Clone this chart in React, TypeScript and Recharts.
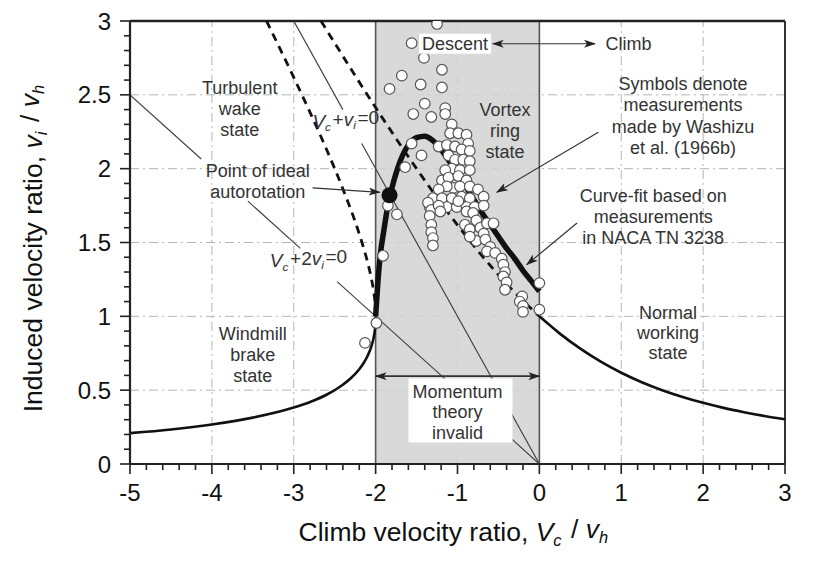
import {
  ComposedChart,
  Label,
  Line,
  ReferenceArea,
  ReferenceDot,
  ReferenceLine,
  Scatter,
  XAxis,
  YAxis,
} from "recharts";

const FONT = '"Liberation Sans", Arial, sans-serif';

// axis ticks
const xMajorTicks = [-5, -4, -3, -2, -1, 0, 1, 2, 3];
const xAllTicks = [
  -5, -4.8, -4.6, -4.4, -4.2, -4, -3.8, -3.6, -3.4, -3.2, -3, -2.8, -2.6, -2.4, -2.2, -2,
  -1.8, -1.6, -1.4, -1.2, -1, -0.8, -0.6, -0.4, -0.2, 0, 0.2, 0.4, 0.6, 0.8, 1, 1.2, 1.4,
  1.6, 1.8, 2, 2.2, 2.4, 2.6, 2.8, 3,
];
const yMajorTicks = [0, 0.5, 1, 1.5, 2, 2.5, 3];
const yAllTicks = [
  0, 0.1, 0.2, 0.3, 0.4, 0.5, 0.6, 0.7, 0.8, 0.9, 1, 1.1, 1.2, 1.3, 1.4, 1.5, 1.6, 1.7, 1.8,
  1.9, 2, 2.1, 2.2, 2.3, 2.4, 2.5, 2.6, 2.7, 2.8, 2.9, 3,
];

// momentum theory, normal working state (climb)
const climbBranch = [
  { vc: 0, vi: 1 }, { vc: 0.25, vi: 0.883 }, { vc: 0.5, vi: 0.781 }, { vc: 0.75, vi: 0.693 },
  { vc: 1, vi: 0.618 }, { vc: 1.25, vi: 0.554 }, { vc: 1.5, vi: 0.5 }, { vc: 1.75, vi: 0.454 },
  { vc: 2, vi: 0.414 }, { vc: 2.25, vi: 0.38 }, { vc: 2.5, vi: 0.351 }, { vc: 2.75, vi: 0.325 },
  { vc: 3, vi: 0.303 },
];

// momentum theory, windmill brake state
const windmillBranch = [
  { vc: -5, vi: 0.209 }, { vc: -4.5, vi: 0.234 }, { vc: -4, vi: 0.268 }, { vc: -3.5, vi: 0.314 },
  { vc: -3, vi: 0.382 }, { vc: -2.8, vi: 0.42 }, { vc: -2.6, vi: 0.469 }, { vc: -2.4, vi: 0.537 },
  { vc: -2.3, vi: 0.582 }, { vc: -2.2, vi: 0.642 }, { vc: -2.15, vi: 0.681 }, { vc: -2.1, vi: 0.73 },
  { vc: -2.05, vi: 0.8 }, { vc: -2.02, vi: 0.868 }, { vc: -2.005, vi: 0.932 }, { vc: -2, vi: 1 },
];

// invalid roots, dashed
const wakeDashed = [
  { vc: -3.333, vi: 3 }, { vc: -3.2, vi: 2.849 }, { vc: -3, vi: 2.618 }, { vc: -2.8, vi: 2.38 },
  { vc: -2.6, vi: 2.131 }, { vc: -2.4, vi: 1.863 }, { vc: -2.2, vi: 1.558 }, { vc: -2.1, vi: 1.37 },
  { vc: -2.05, vi: 1.25 }, { vc: -2.02, vi: 1.152 }, { vc: -2.005, vi: 1.071 }, { vc: -2, vi: 1 },
];
const ringDashed = [
  { vc: -2.667, vi: 3 }, { vc: -2.5, vi: 2.851 }, { vc: -2.25, vi: 2.63 }, { vc: -2, vi: 2.414 },
  { vc: -1.75, vi: 2.204 }, { vc: -1.5, vi: 2 }, { vc: -1.25, vi: 1.804 }, { vc: -1, vi: 1.618 },
  { vc: -0.75, vi: 1.443 }, { vc: -0.5, vi: 1.281 }, { vc: -0.25, vi: 1.133 }, { vc: 0, vi: 1 },
];

// Vc + vi = 0 and Vc + 2vi = 0 (broken where labels sit)
const vcPlusVi = [
  { vc: -3, vi: 3 }, { vc: -2.4, vi: 2.4 }, { vc: -2.3, vi: null }, { vc: -2.17, vi: 2.17 },
  { vc: -0.57, vi: 0.57 }, { vc: -0.45, vi: null }, { vc: -0.34, vi: 0.34 }, { vc: 0, vi: 0 },
];
const vcPlus2Vi = [
  { vc: -5, vi: 2.5 }, { vc: -4.13, vi: 2.065 }, { vc: -4, vi: null }, { vc: -3.56, vi: 1.78 },
  { vc: -2.92, vi: 1.46 }, { vc: -2.7, vi: null }, { vc: -2.47, vi: 1.235 }, { vc: -1.14, vi: 0.57 },
  { vc: -0.8, vi: null }, { vc: -0.34, vi: 0.17 }, { vc: 0, vi: 0 },
];

// curve-fit, NACA TN 3238
const curveFit = [
  { vc: -2, vi: 1 }, { vc: -1.97, vi: 1.25 }, { vc: -1.94, vi: 1.43 }, { vc: -1.9, vi: 1.58 },
  { vc: -1.85, vi: 1.75 }, { vc: -1.8, vi: 1.87 }, { vc: -1.7, vi: 2.05 }, { vc: -1.6, vi: 2.16 },
  { vc: -1.5, vi: 2.21 }, { vc: -1.4, vi: 2.22 }, { vc: -1.3, vi: 2.19 }, { vc: -1.2, vi: 2.13 },
  { vc: -1.1, vi: 2.05 }, { vc: -1, vi: 1.97 }, { vc: -0.9, vi: 1.88 }, { vc: -0.8, vi: 1.79 },
  { vc: -0.7, vi: 1.7 }, { vc: -0.6, vi: 1.62 }, { vc: -0.5, vi: 1.54 }, { vc: -0.4, vi: 1.46 },
  { vc: -0.3, vi: 1.39 }, { vc: -0.2, vi: 1.31 }, { vc: -0.1, vi: 1.24 }, { vc: 0, vi: 1.17 },
];

const idealAutorotation = [{ vc: -1.83, vi: 1.82 }];

// Washizu et al. (1966b) measurements
const washizu = [
  { vc: -1.25, vi: 2.98 }, { vc: -1.56, vi: 2.85 }, { vc: -1.41, vi: 2.75 }, { vc: -1.68, vi: 2.63 },
  { vc: -1.19, vi: 2.67 }, { vc: -1.45, vi: 2.57 }, { vc: -1.19, vi: 2.55 }, { vc: -1.83, vi: 2.54 },
  { vc: -1.4, vi: 2.44 }, { vc: -1.15, vi: 2.41 }, { vc: -1.54, vi: 2.37 }, { vc: -1.32, vi: 2.35 },
  { vc: -1.15, vi: 2.37 }, { vc: -1.07, vi: 2.3 }, { vc: -1.09, vi: 2.24 }, { vc: -0.99, vi: 2.24 },
  { vc: -0.89, vi: 2.23 }, { vc: -0.87, vi: 2.17 }, { vc: -1.23, vi: 2.15 }, { vc: -1.13, vi: 2.16 },
  { vc: -1.03, vi: 2.15 }, { vc: -0.95, vi: 2.13 }, { vc: -0.85, vi: 2.12 }, { vc: -1.44, vi: 2.09 },
  { vc: -1.11, vi: 2.09 }, { vc: -1.03, vi: 2.06 }, { vc: -0.93, vi: 2.06 }, { vc: -0.85, vi: 2.05 },
  { vc: -1.07, vi: 2.0 }, { vc: -0.97, vi: 1.99 }, { vc: -0.85, vi: 1.99 }, { vc: -1.15, vi: 1.99 },
  { vc: -1.19, vi: 1.92 }, { vc: -1.11, vi: 1.94 }, { vc: -0.99, vi: 1.95 }, { vc: -0.89, vi: 1.92 },
  { vc: -1.05, vi: 1.87 }, { vc: -1.13, vi: 1.88 }, { vc: -1.23, vi: 1.86 }, { vc: -0.97, vi: 1.88 },
  { vc: -0.85, vi: 1.88 }, { vc: -0.75, vi: 1.86 }, { vc: -1.3, vi: 1.8 }, { vc: -1.19, vi: 1.8 },
  { vc: -1.07, vi: 1.8 }, { vc: -0.95, vi: 1.81 }, { vc: -0.85, vi: 1.8 }, { vc: -0.68, vi: 1.81 },
  { vc: -1.34, vi: 1.74 }, { vc: -1.23, vi: 1.74 }, { vc: -1.13, vi: 1.74 }, { vc: -1.01, vi: 1.74 },
  { vc: -0.89, vi: 1.74 }, { vc: -0.79, vi: 1.74 }, { vc: -0.68, vi: 1.75 }, { vc: -1.56, vi: 2.17 },
  { vc: -1.64, vi: 2.01 }, { vc: -1.85, vi: 1.75 }, { vc: -1.74, vi: 1.69 }, { vc: -1.91, vi: 1.41 },
  { vc: -1.99, vi: 0.955 }, { vc: -2.13, vi: 0.82 }, { vc: -1.36, vi: 1.77 }, { vc: -1.32, vi: 1.72 },
  { vc: -1.34, vi: 1.68 }, { vc: -1.32, vi: 1.62 }, { vc: -1.32, vi: 1.57 }, { vc: -1.3, vi: 1.53 },
  { vc: -1.3, vi: 1.48 }, { vc: -1.23, vi: 1.75 }, { vc: -1.21, vi: 1.71 }, { vc: -0.99, vi: 1.78 },
  { vc: -0.89, vi: 1.71 }, { vc: -0.81, vi: 1.7 }, { vc: -0.77, vi: 1.65 }, { vc: -0.91, vi: 1.62 },
  { vc: -0.85, vi: 1.59 }, { vc: -0.72, vi: 1.6 }, { vc: -0.64, vi: 1.63 }, { vc: -0.56, vi: 1.63 },
  { vc: -0.68, vi: 1.56 }, { vc: -0.77, vi: 1.51 }, { vc: -0.66, vi: 1.52 }, { vc: -0.6, vi: 1.47 },
  { vc: -0.64, vi: 1.44 }, { vc: -0.54, vi: 1.43 }, { vc: -0.46, vi: 1.39 }, { vc: -0.44, vi: 1.35 },
  { vc: -0.42, vi: 1.3 }, { vc: -0.44, vi: 1.27 }, { vc: -0.4, vi: 1.23 }, { vc: -0.42, vi: 1.18 },
  { vc: -0.21, vi: 1.135 }, { vc: -0.24, vi: 1.1 }, { vc: -0.2, vi: 1.07 }, { vc: -0.2, vi: 1.03 },
  { vc: 0, vi: 1.225 }, { vc: 0, vi: 1.045 }, { vc: -0.85, vi: 1.54 },
];

// axis tick: mark drawn outward from the axis line, label only on majors
const XTick = ({ x, y, payload }: any) => {
  const major = xMajorTicks.includes(payload.value);
  const len = major ? 10 : 6;
  return (
    <g>
      <rect x={x - 0.8} y={y} width={1.6} height={len} fill="#222" />
      {major && (
        <text x={x} y={y + 37} textAnchor="middle" fontSize={24} fontFamily={FONT} fill="#111">
          {String(payload.value)}
        </text>
      )}
    </g>
  );
};

const YTick = ({ x, y, payload }: any) => {
  const major = yMajorTicks.includes(payload.value);
  const len = major ? 10 : 6;
  return (
    <g>
      <rect x={x - len} y={y - 0.8} width={len} height={1.6} fill="#222" />
      {major && (
        <text x={x - 19} y={y + 8.5} textAnchor="end" fontSize={24} fontFamily={FONT} fill="#111">
          {String(payload.value)}
        </text>
      )}
    </g>
  );
};

const Sub = ({ children }: any) => (
  <>
    <tspan fontStyle="italic" fontSize="0.62em" dy="0.3em">{children}</tspan>
    <tspan dy="-0.3em">{"\u200a"}</tspan>
  </>
);

const XTitle = ({ viewBox }: any) => (
  <text
    x={viewBox.x + viewBox.width / 2 - 3}
    y={viewBox.y + 77}
    textAnchor="middle"
    fontSize={26.5}
    fontFamily={FONT}
    fill="#111"
  >
    Climb velocity ratio, <tspan fontStyle="italic">V</tspan>
    <Sub>c</Sub> / <tspan fontStyle="italic">v</tspan>
    <Sub>h</Sub>
  </text>
);

const YTitle = ({ viewBox }: any) => {
  const cx = 42;
  const cy = viewBox.y + viewBox.height / 2 + 5;
  return (
    <text
      x={cx}
      y={cy}
      transform={`rotate(-90 ${cx} ${cy})`}
      textAnchor="middle"
      fontSize={26.5}
      fontFamily={FONT}
      fill="#111"
    >
      Induced velocity ratio, <tspan fontStyle="italic">v</tspan>
      <Sub>i</Sub> / <tspan fontStyle="italic">v</tspan>
      <Sub>h</Sub>
    </text>
  );
};

const note =
  (lines: any[], gap = 21, box?: [number, number, number, number]) =>
  ({ viewBox }: any) => {
    const cx = viewBox.x + (viewBox.width || 0) / 2;
    const cy = viewBox.y + (viewBox.height || 0) / 2;
    return (
      <g>
        {box && <rect x={cx + box[0]} y={cy + box[1]} width={box[2]} height={box[3]} fill="#fff" />}
        <text textAnchor="middle" fontSize={18} fontFamily={FONT} fill="#333">
          {lines.map((l, i) => (
            <tspan key={i} x={cx} y={cy + i * gap + 6.5}>
              {l}
            </tspan>
          ))}
        </text>
      </g>
    );
  };

const eqNote =
  (two: boolean) =>
  ({ viewBox }: any) => {
    const cx = viewBox.x + (viewBox.width || 0) / 2;
    const cy = viewBox.y + (viewBox.height || 0) / 2;
    return (
      <text x={cx} y={cy + 6.5} textAnchor="middle" fontSize={19} fontFamily={FONT} fill="#333">
        <tspan fontStyle="italic">V</tspan>
        <Sub>c</Sub>+{two ? "2" : ""}
        <tspan fontStyle="italic">v</tspan>
        <Sub>i</Sub>=0
      </text>
    );
  };

const noDot = { r: 0, fill: "none", stroke: "none" };

export default function App() {
  return (
    <div style={{ position: "absolute", left: 0, top: 0, background: "#fff" }}>
      <ComposedChart width={820} height={569} margin={{ top: 21, right: 35, bottom: 0, left: 0 }}>
        <defs>
          <marker
            id="arrowHead"
            markerWidth="12"
            markerHeight="10"
            refX="11"
            refY="4"
            orient="auto-start-reverse"
            markerUnits="userSpaceOnUse"
          >
            <path d="M0,0 L12,4 L0,8 L3,4 Z" fill="#222" />
          </marker>
        </defs>
        <XAxis
          dataKey="vc"
          type="number"
          domain={[-5, 3]}
          ticks={xAllTicks}
          interval={0}
          allowDataOverflow
          height={105}
          tickSize={0}
          tickMargin={0}
          tickLine={false}
          tick={<XTick />}
          axisLine={{ stroke: "#222", strokeWidth: 2.2 }}
        >
          <Label content={<XTitle />} />
        </XAxis>
        <YAxis
          type="number"
          domain={[0, 3]}
          ticks={yAllTicks}
          interval={0}
          allowDataOverflow
          width={130}
          tickSize={0}
          tickMargin={0}
          tickLine={false}
          tick={<YTick />}
          axisLine={{ stroke: "#222", strokeWidth: 2.2 }}
        >
          <Label content={<YTitle />} />
        </YAxis>

        {xMajorTicks.map((v) => (
          <ReferenceLine key={`gx${v}`} x={v} stroke="#b5b5b5" strokeDasharray="9 4 2 4" zIndex={-100} />
        ))}
        {yMajorTicks.map((v) => (
          <ReferenceLine key={`gy${v}`} y={v} stroke="#b5b5b5" strokeDasharray="9 4 2 4" zIndex={-100} />
        ))}

        <ReferenceArea x1={-2} x2={0} y1={0} y2={3} fill="#d2d2d2" fillOpacity={0.85} stroke="none" zIndex={-90} />
        <ReferenceLine x={-2} stroke="#555" strokeWidth={1.6} />
        <ReferenceLine x={0} stroke="#555" strokeWidth={1.6} />
        <ReferenceLine y={3} stroke="#222" strokeWidth={2.4} />
        <ReferenceLine x={3} stroke="#333" strokeWidth={2} />

        <Line data={vcPlusVi} dataKey="vi" type="linear" stroke="#444" strokeWidth={1.2} dot={false} activeDot={false} isAnimationActive={false} />
        <Line data={vcPlus2Vi} dataKey="vi" type="linear" stroke="#444" strokeWidth={1.2} dot={false} activeDot={false} isAnimationActive={false} />
        <Line data={wakeDashed} dataKey="vi" type="monotone" stroke="#111" strokeWidth={2.8} strokeDasharray="8 6" dot={false} activeDot={false} isAnimationActive={false} />
        <Line data={ringDashed} dataKey="vi" type="monotone" stroke="#111" strokeWidth={2.8} strokeDasharray="8 6" dot={false} activeDot={false} isAnimationActive={false} />
        <Line data={windmillBranch} dataKey="vi" type="monotone" stroke="#111" strokeWidth={2.6} dot={false} activeDot={false} isAnimationActive={false} />
        <Line data={climbBranch} dataKey="vi" type="monotone" stroke="#111" strokeWidth={2.6} dot={false} activeDot={false} isAnimationActive={false} />
        <Line data={curveFit} dataKey="vi" type="monotone" stroke="#111" strokeWidth={5.5} dot={false} activeDot={false} isAnimationActive={false} />

        <Scatter
          data={washizu}
          dataKey="vi"
          isAnimationActive={false}
          shape={(p: any) => <circle cx={p.cx} cy={p.cy} r={5.3} fill="#fff" stroke="#555" strokeWidth={1.2} />}
        />
        <Scatter
          data={idealAutorotation}
          dataKey="vi"
          isAnimationActive={false}
          shape={(p: any) => <circle cx={p.cx} cy={p.cy} r={8} fill="#111" />}
        />

        <ReferenceLine segment={[{ x: -0.57, y: 2.846 }, { x: 0.68, y: 2.846 }]} stroke="#333" strokeWidth={1.2} markerStart="url(#arrowHead)" markerEnd="url(#arrowHead)" />
        <ReferenceLine segment={[{ x: -2, y: 0.595 }, { x: 0, y: 0.595 }]} stroke="#333" strokeWidth={1.6} markerStart="url(#arrowHead)" markerEnd="url(#arrowHead)" />
        <ReferenceLine segment={[{ x: -2.77, y: 1.87 }, { x: -1.95, y: 1.84 }]} stroke="#333" strokeWidth={1.2} markerEnd="url(#arrowHead)" />
        <ReferenceLine segment={[{ x: 0.72, y: 2.247 }, { x: -0.52, y: 1.84 }]} stroke="#333" strokeWidth={1.2} markerEnd="url(#arrowHead)" />
        <ReferenceLine segment={[{ x: 0.46, y: 1.632 }, { x: -0.154, y: 1.35 }]} stroke="#333" strokeWidth={1.2} markerEnd="url(#arrowHead)" />

        <ReferenceDot x={-3.66} y={2.55} {...noDot} label={note(["Turbulent", "wake", "state"])} />
        <ReferenceDot x={-2.365} y={2.32} {...noDot} label={eqNote(false)} />
        <ReferenceDot x={-3.44} y={1.99} {...noDot} label={note(["Point of ideal", "autorotation"])} />
        <ReferenceDot x={-2.82} y={1.375} {...noDot} label={eqNote(true)} />
        <ReferenceDot x={-1.03} y={2.846} {...noDot} label={note(["Descent"], 21, [-36, -10, 72, 20])} />
        <ReferenceDot x={1.09} y={2.846} {...noDot} label={note(["Climb"])} />
        <ReferenceDot x={-0.42} y={2.4} {...noDot} label={note(["Vortex", "ring", "state"])} />
        <ReferenceDot
          x={1.755}
          y={2.58}
          {...noDot}
          label={note(["Symbols denote", "measurements", "made by Washizu", "et al. (1966b)"], 21.5)}
        />
        <ReferenceDot
          x={1.39}
          y={1.82}
          {...noDot}
          label={note(["Curve-fit based on", "measurements", "in NACA TN 3238"])}
        />
        <ReferenceDot x={-3.5} y={0.883} {...noDot} label={note(["Windmill", "brake", "state"])} />
        <ReferenceDot x={1.57} y={1.025} {...noDot} label={note(["Normal", "working", "state"], 20)} />
        <ReferenceDot
          x={-1.0}
          y={0.491}
          {...noDot}
          label={note(["Momentum", "theory", "invalid"], 20.5, [-49, -13, 104, 64])}
        />
      </ComposedChart>
    </div>
  );
}
